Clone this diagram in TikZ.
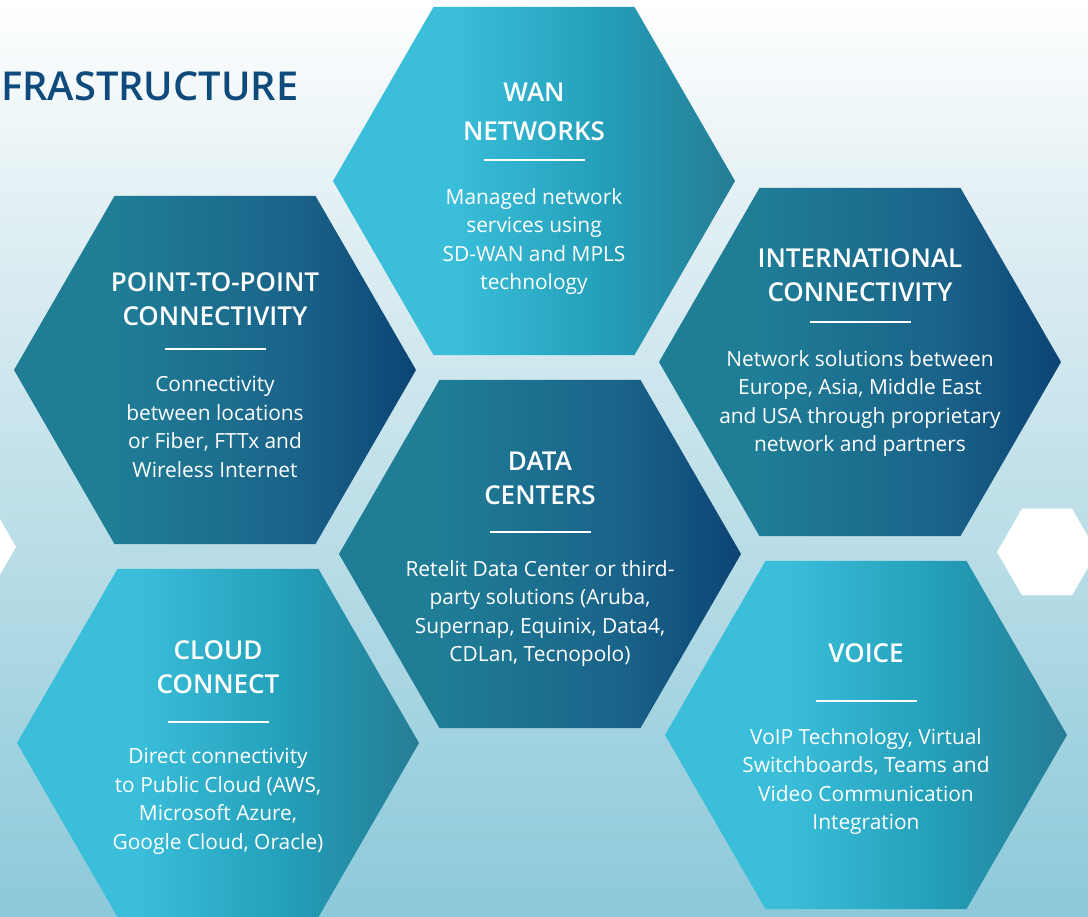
\documentclass[tikz,border=0pt]{standalone}
\usepackage{fontspec}
\setmainfont{Open Sans}
\IfFontExistsTF{Open Sans Semibold}{\newfontfamily\sbfont{Open Sans Semibold}}{%
  \IfFontExistsTF{Open Sans SemiBold}{\newfontfamily\sbfont{Open Sans SemiBold}}{\newcommand\sbfont{\bfseries}}}
\usetikzlibrary{shapes.geometric,calc}
\definecolor{lc1}{HTML}{3ABEDA}
\definecolor{lc2}{HTML}{24A0BA}
\definecolor{lc3}{HTML}{267C95}
\definecolor{dc1}{HTML}{1F7D96}
\definecolor{dc2}{HTML}{1A6389}
\definecolor{dc3}{HTML}{0C4474}
\definecolor{bg1}{HTML}{FFFFFF}
\definecolor{bg2}{HTML}{E3F0F4}
\definecolor{bg3}{HTML}{B9DDE7}
\definecolor{bg4}{HTML}{8CC9D9}
\definecolor{titleblue}{HTML}{0E4A7B}
\pgfdeclarehorizontalshading{lighthex}{100bp}{color(0bp)=(lc1); color(25bp)=(lc1); color(40bp)=(lc1); color(58bp)=(lc2); color(75bp)=(lc3); color(100bp)=(lc3)}
\pgfdeclarehorizontalshading{darkhex}{100bp}{color(0bp)=(dc1); color(25bp)=(dc1); color(38bp)=(dc1); color(60bp)=(dc2); color(75bp)=(dc3); color(100bp)=(dc3)}
\pgfdeclareverticalshading{bgshade}{100bp}{color(0bp)=(bg4); color(25bp)=(bg4); color(45bp)=(bg3); color(64bp)=(bg2); color(75bp)=(bg1); color(100bp)=(bg1)}
\tikzset{
  hexnode/.style={regular polygon, regular polygon sides=6, minimum size=402pt, inner sep=0pt, draw=none, shade},
  whitehex/.style={regular polygon, regular polygon sides=6, minimum size=100pt, inner sep=0pt, fill=white, draw=none},
  headtext/.style={text=white, align=center, inner sep=0pt, font=\sbfont\fontsize{26}{34}\selectfont},
  bodytext/.style={text=white, align=center, inner sep=0pt, font=\fontsize{20.9}{28.5}\selectfont},
  hexrule/.style={draw=white, line width=2.5pt}
}
\newcommand\hexcard[9]{%
  \node[hexnode, shading=#4] (#1) at (#2,#3) {};
  \node[headtext, anchor=north] (#1-head) at ($(#1.center)+(0,#6)$) {#5};
  \coordinate (#1-rl) at ($(#1.center)+(-50.5,#7)$);
  \coordinate (#1-rr) at ($(#1.center)+(50.5,#7)$);
  \draw[hexrule] (#1-rl) -- (#1-rr);
  \node[bodytext, anchor=north] (#1-body) at ($(#1.center)+(0,#9)$) {#8};
}
\begin{document}
\begin{tikzpicture}[x=1pt,y=-1pt]
\useasboundingbox (0,0) rectangle (1088,917);
\clip (0,0) rectangle (1088,917);
\shade[shading=bgshade] (0,0) rectangle (1088,917);
\node[anchor=base west, inner sep=0pt, text=titleblue, font=\sbfont\fontsize{39.8}{50}\selectfont] (title) at (1,101) {FRASTRUCTURE};
\node[whitehex] (wh1) at (1047,552) {};
\node[whitehex] (wh2) at (-34,547) {};
\hexcard{wan}{534}{181}{lighthex}{WAN\\[5pt]NETWORKS}{-98}{-21}{Managed network\\services using\\SD-WAN and MPLS\\technology}{7}
\hexcard{ptp}{215}{370}{darkhex}{POINT-TO-POINT\\CONNECTIVITY}{-98}{-21}{Connectivity\\between locations\\or Fiber, FTTx and\\Wireless Internet}{6}
\hexcard{intl}{860}{362}{darkhex}{INTERNATIONAL\\CONNECTIVITY}{-114}{-40}{Network solutions between\\Europe, Asia, Middle East\\and USA through proprietary\\network and partners}{-12}
\hexcard{dc}{540}{554}{darkhex}{DATA\\CENTERS}{-102}{-22}{Retelit Data Center or third-\\party solutions (Aruba,\\Supernap, Equinix, Data4,\\CDLan, Tecnopolo)}{6}
\hexcard{cloud}{218}{743}{lighthex}{CLOUD\\CONNECT}{-103}{-21}{Direct connectivity\\to Public Cloud (AWS,\\Microsoft Azure,\\Google Cloud, Oracle)}{5}
\hexcard{voice}{866}{735}{lighthex}{VOICE}{-92}{-34}{VoIP Technology, Virtual\\Switchboards, Teams and\\Video Communication\\Integration}{-7}
\end{tikzpicture}
\end{document}
